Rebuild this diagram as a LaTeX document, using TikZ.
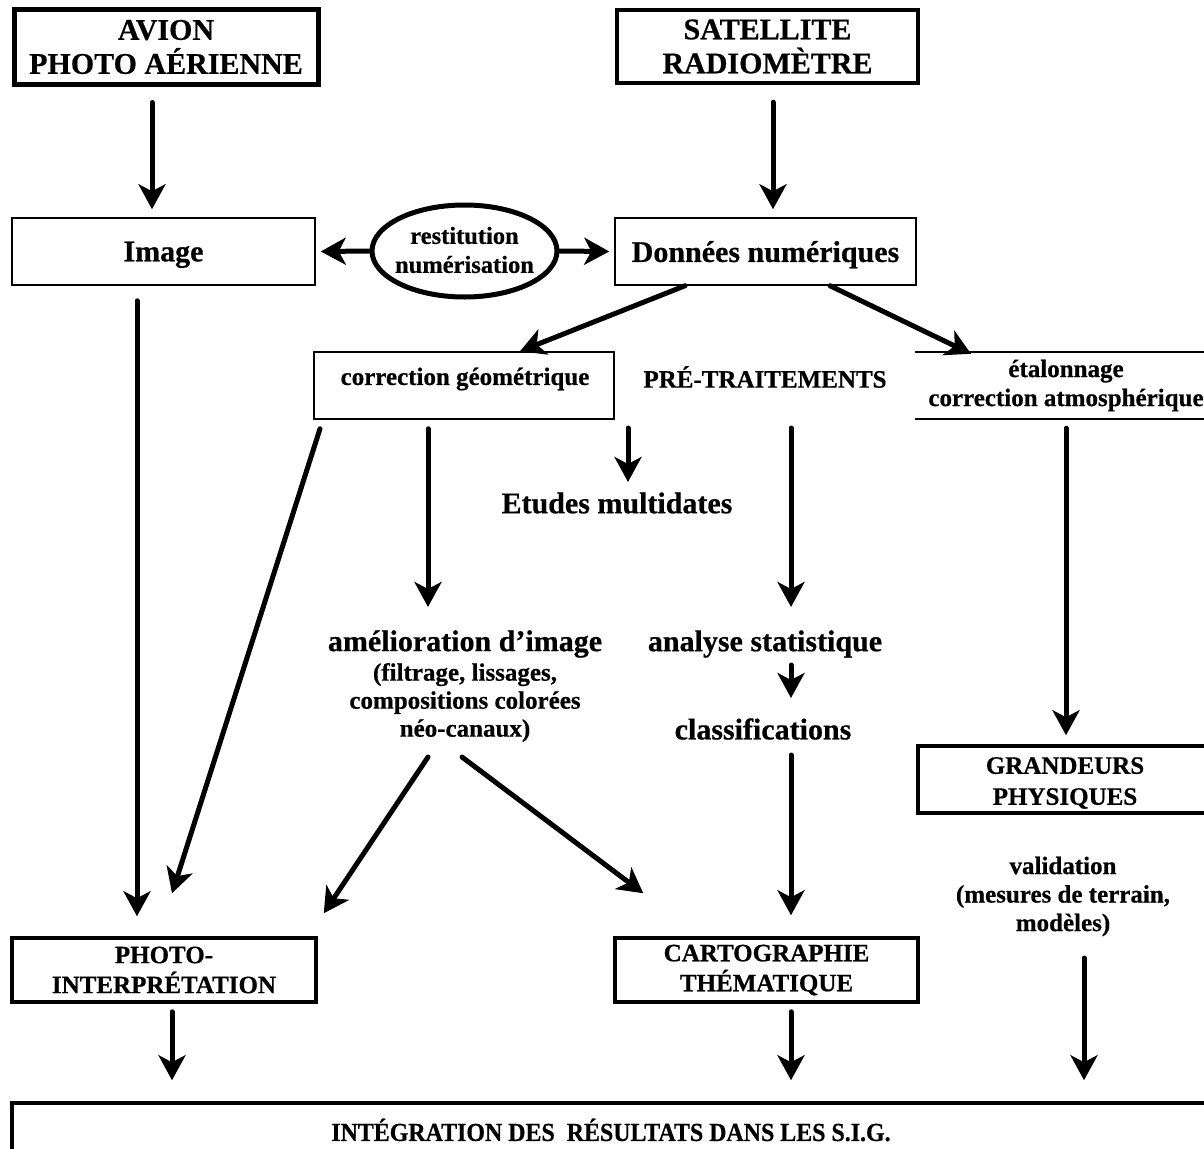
\documentclass[tikz,border=0pt]{standalone}
\usepackage{fontspec}
\setmainfont{Liberation Serif}[BoldFeatures={FakeBold=0.6}]
\usetikzlibrary{arrows.meta,shapes.geometric}
\tikzset{
  arr/.style={line width=5pt, line cap=round, -{Stealth[length=25pt,width=27pt,inset=7pt]}},
  heavybox/.style={draw, line width=5pt, inner sep=0pt, align=center},
  midbox/.style={draw, line width=3.5pt, inner sep=0pt, align=center},
  thinbox/.style={draw, line width=1.5pt, inner sep=0pt, align=center},
  txt/.style={inner sep=0pt, align=center},
  big/.style={font=\fontsize{30}{34}\selectfont\bfseries},
  mid/.style={font=\fontsize{25}{29}\selectfont\bfseries},
}
\begin{document}
\begin{tikzpicture}[x=1pt,y=-1pt]
\fill[white] (0,0) rectangle (1204,1148);
\useasboundingbox (0,0) rectangle (1204,1148);
\clip (0,0) rectangle (1204,1148);

% sources
\node[heavybox, big, minimum width=304pt, minimum height=74pt] (avion) at (166,47) {AVION\\PHOTO AÉRIENNE};
\node[heavybox, line width=4.5pt, big, minimum width=301pt, minimum height=73pt] (sat) at (767.5,46.5) {SATELLITE\\RADIOMÈTRE};

% acquired data
\node[thinbox, big, text depth=0pt, minimum width=303pt, minimum height=67pt] (img) at (163.5,251.5) {Image};
\node[thinbox, big, text depth=0pt, minimum width=301pt, minimum height=67pt] (don) at (765.5,251.5) {Données numériques};
\node[draw, ellipse, line width=5pt, inner sep=0pt, minimum width=185pt, minimum height=92pt] (ell) at (464.5,251) {};
\node[txt, font=\fontsize{24.5}{29}\selectfont\bfseries] (ellt) at (464.5,250) {restitution\\numérisation};

% pre-processing band
\node[thinbox, minimum width=300pt, minimum height=67pt] (cg) at (464,385.5) {};
\node[txt, mid] (cgt) at (465,379) {correction géométrique};
\node[txt, mid] (pre) at (765,377) {PRÉ-TRAITEMENTS};
\node[txt, mid, minimum height=67pt] (eta) at (1066,385.5) {étalonnage\\correction atmosphérique};
\draw[line width=1.5pt] (915,352) -- (1215,352) (915,419) -- (1215,419);

% processing
\node[txt, big] (em) at (617,503) {Etudes multidates};
\node[txt, big] (ame) at (465,644) {amélioration d’image};
\node[txt, font=\fontsize{25}{28}\selectfont\bfseries] (amesub) at (465,702.5) {(filtrage, lissages,\\compositions colorées\\néo-canaux)};
\node[txt, big] (ana) at (765,644) {analyse statistique};
\node[txt, big] (cls) at (763,729) {classifications};
\node[midbox, minimum width=294pt, minimum height=67pt] (grand) at (1065,779.5) {};
\node[txt, font=\fontsize{25}{31}\selectfont\bfseries] (grandt) at (1065,783) {GRANDEURS\\PHYSIQUES};
\node[txt, font=\fontsize{25}{28.5}\selectfont\bfseries] (val) at (1063,896.5) {validation\\(mesures de terrain,\\modèles)};

% outputs
\node[midbox, font=\fontsize{25}{30}\selectfont\bfseries, minimum width=304pt, minimum height=64pt] (photo) at (164,970) {PHOTO-\\INTERPRÉTATION};
\node[midbox, font=\fontsize{25}{30}\selectfont\bfseries, minimum width=303pt, minimum height=64pt] (carto) at (766.5,970) {CARTOGRAPHIE\\THÉMATIQUE};
\node[midbox, minimum width=1200pt, minimum height=67pt] (bot) at (612,1136.5) {};
\node[txt, font=\fontsize{26}{30}\selectfont\bfseries] (bott) at (611,1130) {\scalebox{0.92}[1]{INTÉGRATION DES\ \ RÉSULTATS DANS LES S.I.G.}};

% connectors
\draw[arr] ([shift={(-14,16)}]avion.south) -- ([shift={(-11.5,-8)}]img.north);
\draw[arr] ([shift={(5.5,17)}]sat.south) -- ([shift={(7.5,-8)}]don.north);
\draw[arr] (ell.west) -- ([xshift=5pt]img.east);
\draw[arr] (ell.east) -- ([xshift=-5pt]don.west);
\draw[arr] ([xshift=-80.5pt]don.south) -- ([xshift=56pt]cg.north);
\draw[arr] ([xshift=64.5pt]don.south) -- ([shift={(-95,2)}]eta.north);
\draw[arr] ([shift={(-26.5,15)}]img.south) -- ([shift={(-27,-20)}]photo.north);
\draw[arr] ([shift={(-144,9)}]cg.south) -- ([shift={(8,-43)}]photo.north);
\draw[arr] ([shift={(-36,9)}]cg.south) -- ([shift={(-37,-37)}]ame.center);
\draw[arr] ([shift={(-137,51)}]pre.center) -- ([shift={(11,-21)}]em.center);
\draw[arr] ([shift={(26,51)}]pre.center) -- ([shift={(26,-37)}]ana.center);
\draw[arr] ([shift={(0,9)}]eta.south) -- ([shift={(1,-9)}]grand.north);
\draw[arr] ([shift={(26,21)}]ana.center) -- ([shift={(28,-31)}]cls.center);
\draw[arr] ([shift={(28,26)}]cls.center) -- ([shift={(24.5,-21)}]carto.north);
\draw[arr] ([shift={(-37,54.5)}]amesub.center) -- ([shift={(6,-23)}]photo.north east);
\draw[arr] ([shift={(-3,54.5)}]amesub.center) -- ([shift={(30,-43)}]carto.north west);
\draw[arr] ([shift={(21,61.5)}]val.center) -- ([shift={(472,-21)}]bot.north);
\draw[arr] ([shift={(8,8)}]photo.south) -- ([shift={(-440,-21)}]bot.north);
\draw[arr] ([shift={(24.5,8)}]carto.south) -- ([shift={(179,-21)}]bot.north);
\end{tikzpicture}
\end{document}
